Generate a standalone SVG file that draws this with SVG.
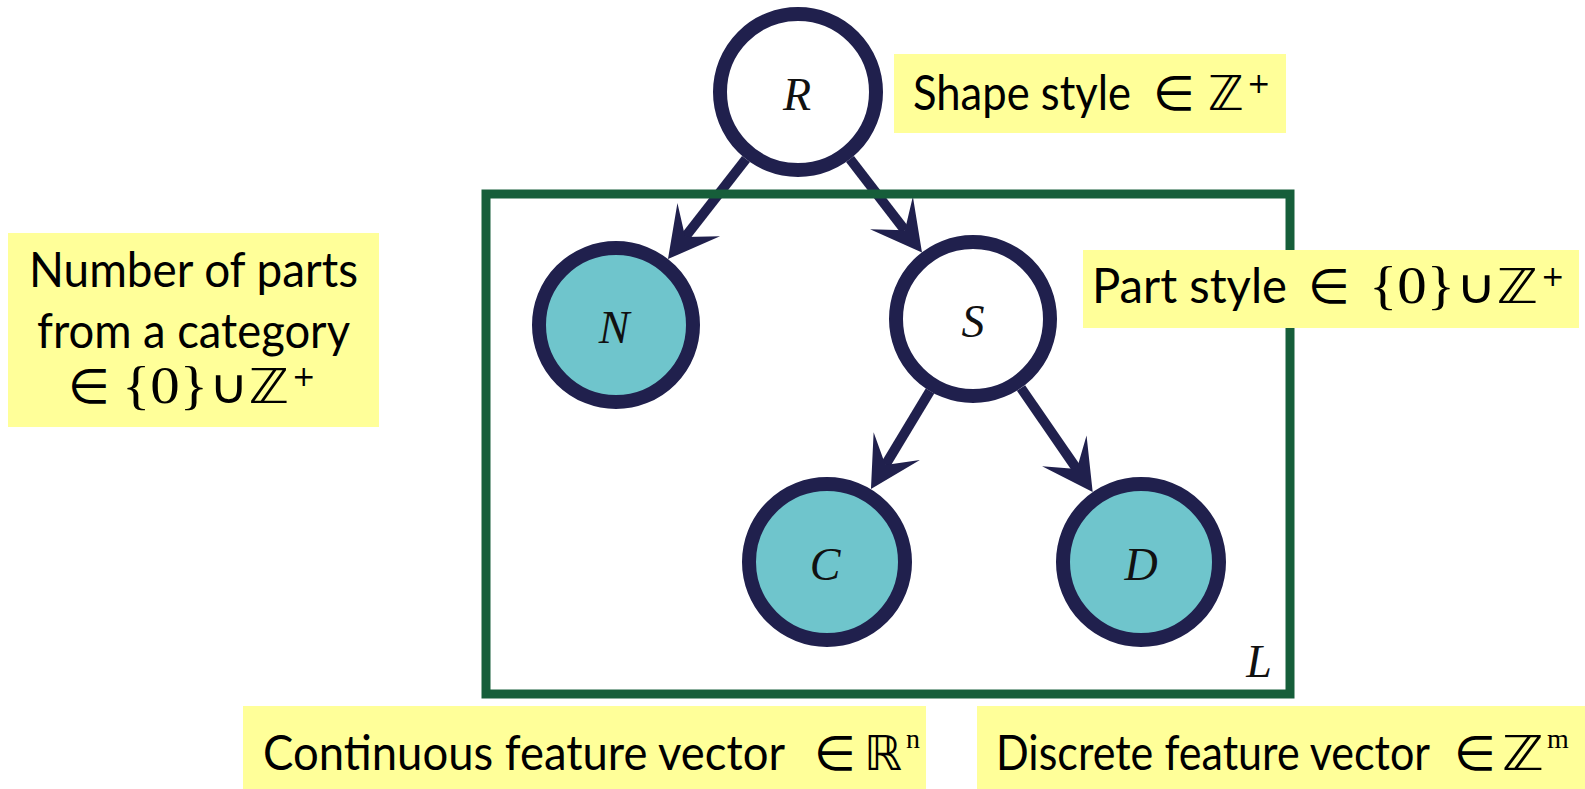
<svg xmlns="http://www.w3.org/2000/svg" width="1585" height="789" viewBox="0 0 1585 789">
<style>
  .node { stroke: #20204d; stroke-width: 14; }
  .obs { fill: #6fc5cc; }
  .lat { fill: #ffffff; }
  .var { font-family: "Liberation Serif", "DejaVu Serif", serif; font-style: italic; font-size: 46px; fill: #111111; text-anchor: middle; }
  .edge { stroke: #20204d; stroke-width: 10; fill: none; }
  .box { fill: #ffff99; }
  .lbl { font-family: "Lato", "Liberation Sans", sans-serif; font-size: 48px; fill: #000000; }
  .m { font-family: "DejaVu Sans", sans-serif; font-size: 48px; fill: #000000; }
  .rm { font-family: "Liberation Serif", "DejaVu Serif", serif; font-size: 52px; fill: #000000; }
  .sup { font-size: 28px; }
  .plate { fill: none; stroke: #165e3a; stroke-width: 9; }
</style>
<defs>
  <marker id="arr" markerUnits="userSpaceOnUse" markerWidth="70" markerHeight="70" viewBox="-30 -35 70 70" refX="0" refY="0" orient="auto" overflow="visible">
    <path d="M28,0 L-22,-27 L0,0 L-22,27 Z" fill="#20204d"/>
  </marker>
</defs>
<rect width="1585" height="789" fill="#ffffff"/>

<g id="connectors">
  <line class="edge" x1="746" y1="159" x2="685.2" y2="237" marker-end="url(#arr)"/>
  <line class="edge" x1="850" y1="159" x2="904.9" y2="230.3" marker-end="url(#arr)"/>
  <line class="edge" x1="930" y1="391" x2="885.4" y2="465" marker-end="url(#arr)"/>
  <line class="edge" x1="1021" y1="388" x2="1076.8" y2="469" marker-end="url(#arr)"/>
</g>

<g id="plate">
  <rect class="plate" x="486" y="194" width="804" height="500"/>
  <text class="var" x="1259" y="677">L</text>
</g>

<g id="node-R">
  <circle class="node lat" cx="798" cy="92" r="78"/>
  <text class="var" x="797" y="110">R</text>
</g>
<g id="node-N">
  <circle class="node obs" cx="616" cy="325" r="77"/>
  <text class="var" x="614" y="343">N</text>
</g>
<g id="node-S">
  <circle class="node lat" cx="973" cy="319" r="77"/>
  <text class="var" x="973" y="337">S</text>
</g>
<g id="node-C">
  <circle class="node obs" cx="827" cy="562" r="78"/>
  <text class="var" x="825" y="580">C</text>
</g>
<g id="node-D">
  <circle class="node obs" cx="1141" cy="562" r="78"/>
  <text class="var" x="1141" y="580">D</text>
</g>

<g id="label-shape">
  <rect class="box" x="894" y="54" width="392" height="79"/>
  <text class="lbl" x="913" y="110" textLength="218" lengthAdjust="spacingAndGlyphs">Shape style</text>
  <text class="m" x="1153" y="110">∈</text>
  <text class="m" x="1208" y="110">ℤ</text>
  <text class="m sup" x="1247" y="93">+</text>
</g>

<g id="label-number">
  <rect class="box" x="8" y="233" width="371" height="194"/>
  <text class="lbl" x="29" y="287" textLength="329" lengthAdjust="spacingAndGlyphs">Number of parts</text>
  <text class="lbl" x="37" y="348" textLength="313" lengthAdjust="spacingAndGlyphs">from a category</text>
  <text class="m" x="68" y="403">∈</text>
  <text class="rm" x="122" y="403" textLength="86" lengthAdjust="spacingAndGlyphs">{0}</text>
  <text class="m" x="209" y="403" textLength="80" lengthAdjust="spacingAndGlyphs">∪ℤ</text>
  <text class="m sup" x="292" y="386">+</text>
</g>

<g id="label-part">
  <rect class="box" x="1083" y="250" width="496" height="78"/>
  <text class="lbl" x="1092" y="303" textLength="195" lengthAdjust="spacingAndGlyphs">Part style</text>
  <text class="m" x="1308" y="303">∈</text>
  <text class="rm" x="1369" y="303" textLength="86" lengthAdjust="spacingAndGlyphs">{0}</text>
  <text class="m" x="1456" y="303" textLength="82" lengthAdjust="spacingAndGlyphs">∪ℤ</text>
  <text class="m sup" x="1541" y="286">+</text>
</g>

<g id="label-continuous">
  <rect class="box" x="243" y="706" width="683" height="83"/>
  <text class="lbl" x="263" y="770" textLength="522" lengthAdjust="spacingAndGlyphs">Continuous feature vector</text>
  <text class="m" x="814" y="770">∈</text>
  <text class="m" x="864" y="770" textLength="38" lengthAdjust="spacingAndGlyphs">ℝ</text>
  <text class="rm sup" x="906" y="748">n</text>
</g>

<g id="label-discrete">
  <rect class="box" x="977" y="706" width="608" height="83"/>
  <text class="lbl" x="996" y="770" textLength="434" lengthAdjust="spacingAndGlyphs">Discrete feature vector</text>
  <text class="m" x="1454" y="770">∈</text>
  <text class="m" x="1502" y="770" textLength="42" lengthAdjust="spacingAndGlyphs">ℤ</text>
  <text class="rm sup" x="1547" y="748">m</text>
</g>
</svg>
